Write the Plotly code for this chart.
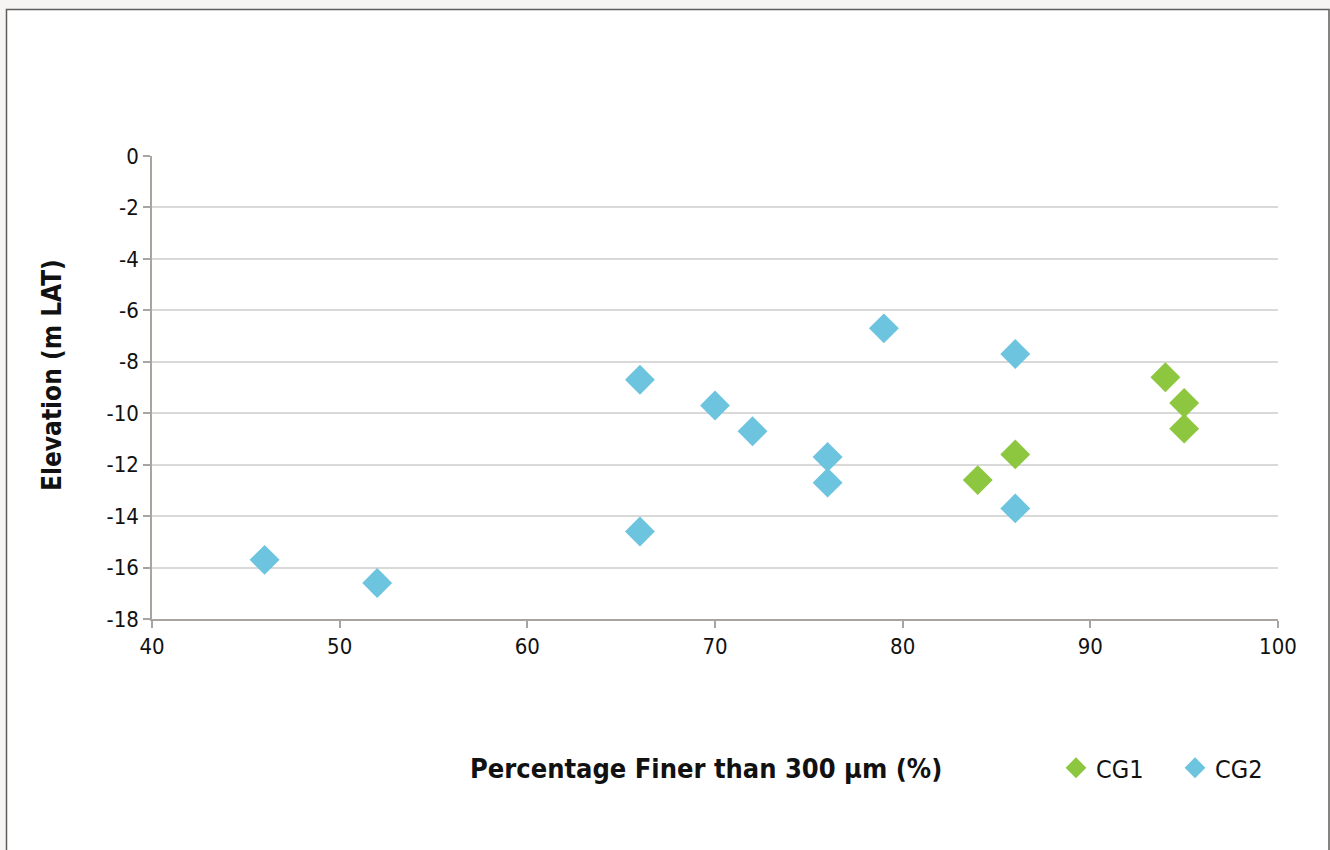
import plotly.graph_objects as go

# Data
cg1_x = [94, 95, 95, 86, 84]
cg1_y = [-8.6, -9.6, -10.6, -11.6, -12.6]
cg2_x = [46, 52, 66, 66, 70, 72, 76, 76, 79, 86, 86]
cg2_y = [-15.7, -16.6, -8.7, -14.6, -9.7, -10.7, -11.7, -12.7, -6.7, -7.7, -13.7]
series_names = ["CG1", "CG2"]
x_ticks = [40, 50, 60, 70, 80, 90, 100]
y_ticks = [0, -2, -4, -6, -8, -10, -12, -14, -16, -18]
y_ticktext = ["0", "-2", "-4", "-6", "-8", "-10", "-12", "-14", "-16", "-18"]
x_title = "Percentage Finer than 300 μm (%)"
y_title = "Elevation (m LAT)"

FONT = "DejaVu Sans Condensed, Liberation Sans Narrow, Roboto, sans-serif"
GREEN = "#8dc63f"
BLUE = "#6cc4df"

W, H = 1330, 850
L, R, T, B = 152, 52, 156, 231
pw, ph = W - L - R, H - T - B

def px_x(px):
    return (px - L) / pw

def px_y(py):
    return (H - B - py) / ph

fig = go.Figure()
fig.add_trace(go.Scatter(x=cg1_x, y=cg1_y, mode="markers", name=series_names[0],
                         marker=dict(symbol="diamond", size=23, color=GREEN, line=dict(width=0))))
fig.add_trace(go.Scatter(x=cg2_x, y=cg2_y, mode="markers", name=series_names[1],
                         marker=dict(symbol="diamond", size=23, color=BLUE, line=dict(width=0))))

fig.update_layout(
    width=W, height=H,
    margin=dict(l=L, r=R, t=T, b=B, autoexpand=False),
    paper_bgcolor="#f6f5f3",
    plot_bgcolor="rgba(0,0,0,0)",
    font=dict(family=FONT, size=22, color="#111111"),
    showlegend=True,
    legend=dict(orientation="h", x=px_x(1056), y=px_y(768), xanchor="left", yanchor="middle",
                font=dict(size=25, family=FONT), itemsizing="trace", bgcolor="rgba(0,0,0,0)",
                itemwidth=30, tracegroupgap=0, entrywidth=74, entrywidthmode="pixels"),
    shapes=[dict(type="rect", xref="paper", yref="paper", layer="below",
                 x0=px_x(6.5), x1=px_x(1329), y0=px_y(870), y1=px_y(9.5),
                 fillcolor="white", line=dict(color="#5e5e5e", width=1.5))],
    annotations=[
        dict(text="<b>" + x_title + "</b>", xref="paper", yref="paper",
             x=px_x(706), y=px_y(768), xanchor="center", yanchor="middle",
             showarrow=False, font=dict(size=27, family=FONT, color="#111111")),
        dict(text="<b>" + y_title + "</b>", xref="paper", yref="paper",
             x=px_x(52), y=px_y(375), xanchor="center", yanchor="middle", textangle=-90,
             showarrow=False, font=dict(size=26, family=FONT, color="#111111")),
    ],
)
fig.update_xaxes(range=[40, 100], tickvals=x_ticks, showgrid=False, zeroline=False,
                 showline=True, linecolor="#aaa4a0", linewidth=1.5,
                 ticks="outside", ticklen=7, tickcolor="#aaa4a0", tickwidth=1.5,
                 tickfont=dict(size=22, family=FONT))
fig.update_yaxes(range=[-18, 0], tickvals=y_ticks, ticktext=y_ticktext,
                 showgrid=True, gridcolor="#d9d9d9", gridwidth=1.5,
                 zeroline=False, showline=True, linecolor="#aaa4a0", linewidth=1.5,
                 ticks="outside", ticklen=7, tickcolor="#aaa4a0", tickwidth=1.5,
                 tickfont=dict(size=22, family=FONT))

fig.write_html("out.html", config={"displayModeBar": False},
               post_script="document.body.style.margin='0px';document.body.style.overflow='hidden';")
